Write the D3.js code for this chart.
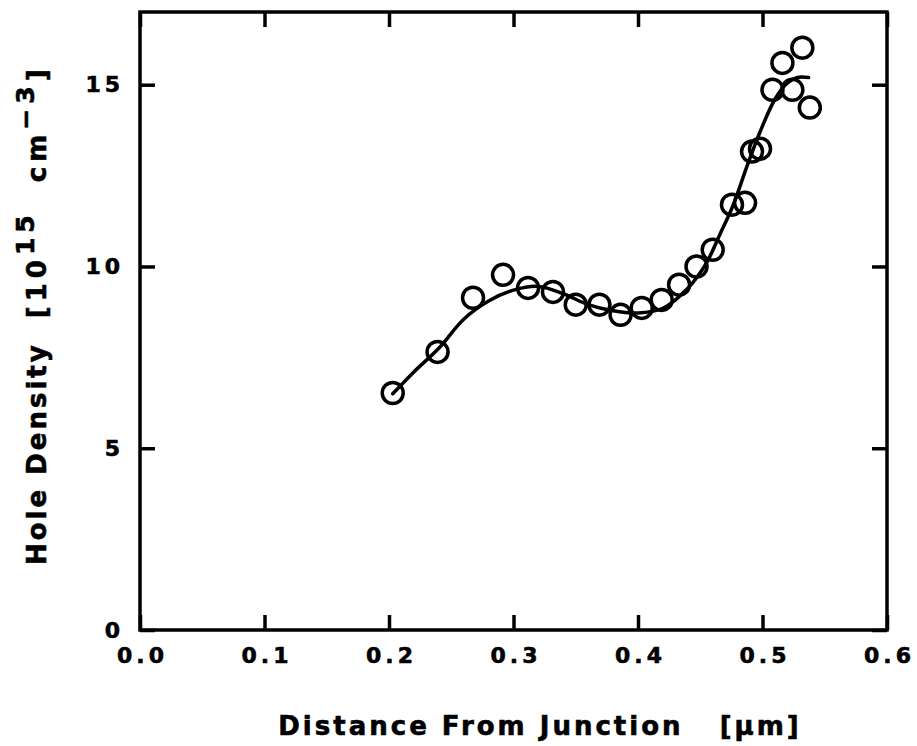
<!DOCTYPE html>
<html>
<head>
<meta charset="utf-8">
<script src="https://cdn.jsdelivr.net/npm/d3@7/dist/d3.min.js"></script>
<style>
  html, body { margin: 0; padding: 0; background: #fff; }
  svg { display: block; }
  text { font-family: "DejaVu Sans", sans-serif; font-weight: bold; fill: #000; stroke: #000; stroke-width: 0.6px; }
</style>
</head>
<body>
<svg id="chart" width="917" height="746"></svg>
<script>
// Measured hole density profile
const distance = [0.203, 0.239, 0.2675, 0.2916, 0.3117, 0.3317, 0.350, 0.369, 0.386, 0.403,
                  0.419, 0.433, 0.447, 0.460, 0.4755, 0.486, 0.4916, 0.498, 0.508, 0.516,
                  0.524, 0.532, 0.538];
const density  = [6.52, 7.65, 9.14, 9.77, 9.41, 9.30, 8.95, 8.95, 8.67, 8.86,
                  9.08, 9.50, 10.0, 10.46, 11.70, 11.75, 13.16, 13.24, 14.86, 15.6,
                  14.86, 16.02, 14.37];

// Smooth fitted curve through the measurements
const fitX = [0.203, 0.22, 0.24, 0.26, 0.28, 0.30, 0.32, 0.34, 0.36, 0.38, 0.40, 0.42,
              0.44, 0.455, 0.466, 0.476, 0.488, 0.498, 0.51, 0.52, 0.528, 0.537];
const fitY = [6.5, 7.1, 7.75, 8.55, 9.05, 9.35, 9.45, 9.25, 8.95, 8.78, 8.72, 8.85,
              9.4, 10.1, 10.9, 11.65, 12.8, 13.7, 14.6, 15.05, 15.2, 15.2];

const xTicks = [0.0, 0.1, 0.2, 0.3, 0.4, 0.5, 0.6];
const yTicks = [0, 5, 10, 15];

const svg = d3.select("#chart");
const plotL = 140, plotR = 887, plotT = 12, plotB = 630;

const x = d3.scaleLinear().domain([0, 0.6]).range([plotL, plotR]);
const y = d3.scaleLinear().domain([0, 17]).range([plotB, plotT]);

const tickLen = 15;
const lw = 3.5;

// Frame
svg.append("rect")
  .attr("x", plotL).attr("y", plotT)
  .attr("width", plotR - plotL).attr("height", plotB - plotT)
  .attr("fill", "none").attr("stroke", "#000").attr("stroke-width", lw);

function styleAxis(g) {
  g.select(".domain").remove();
  g.selectAll(".tick line").attr("stroke", "#000").attr("stroke-width", lw);
}

// Bottom axis with labels
const gx = svg.append("g").attr("transform", `translate(0,${plotB})`)
  .call(d3.axisBottom(x).tickValues(xTicks).tickFormat(d3.format(".1f"))
    .tickSizeInner(-tickLen).tickSizeOuter(0).tickPadding(17));
styleAxis(gx);
gx.selectAll(".tick text")
  .attr("font-size", 22).attr("font-family", "DejaVu Sans").attr("font-weight", "bold")
  .style("letter-spacing", "4px").attr("dx", 2);

// Top axis (ticks only)
const gxt = svg.append("g").attr("transform", `translate(0,${plotT})`)
  .call(d3.axisTop(x).tickValues(xTicks).tickFormat("")
    .tickSizeInner(-tickLen).tickSizeOuter(0));
styleAxis(gxt);

// Left axis with labels
const gy = svg.append("g").attr("transform", `translate(${plotL},0)`)
  .call(d3.axisLeft(y).tickValues(yTicks).tickFormat(d3.format("d"))
    .tickSizeInner(-tickLen).tickSizeOuter(0).tickPadding(20));
styleAxis(gy);
gy.selectAll(".tick text")
  .attr("font-size", 22).attr("font-family", "DejaVu Sans").attr("font-weight", "bold")
  .style("letter-spacing", "4px").attr("dx", 4);

// Right axis (ticks only)
const gyr = svg.append("g").attr("transform", `translate(${plotR},0)`)
  .call(d3.axisRight(y).tickValues(yTicks).tickFormat("")
    .tickSizeInner(-tickLen).tickSizeOuter(0));
styleAxis(gyr);

// Fitted curve
const line = d3.line()
  .x((d, i) => x(fitX[i]))
  .y((d, i) => y(fitY[i]))
  .curve(d3.curveCatmullRom.alpha(0.5));
svg.append("path")
  .datum(fitX)
  .attr("d", line)
  .attr("fill", "none").attr("stroke", "#000").attr("stroke-width", lw)
  .attr("stroke-linejoin", "round").attr("stroke-linecap", "round");

// Data markers
svg.append("g").selectAll("circle")
  .data(distance)
  .join("circle")
  .attr("cx", (d) => x(d))
  .attr("cy", (d, i) => y(density[i]))
  .attr("r", 10.5)
  .attr("fill", "none").attr("stroke", "#000").attr("stroke-width", lw);

// Axis titles
svg.append("text")
  .attr("x", 540).attr("y", 735)
  .attr("text-anchor", "middle")
  .attr("font-size", 26)
  .attr("xml:space", "preserve")
  .style("letter-spacing", "3px")
  .text("Distance From Junction   [\u03bcm]");

const yt = svg.append("text")
  .attr("transform", "translate(46,565) rotate(-90)")
  .attr("text-anchor", "start")
  .attr("font-size", 26)
  .attr("xml:space", "preserve")
  .style("letter-spacing", "3px");
yt.append("tspan").text("Hole Density  ");
yt.append("tspan").style("letter-spacing", "5px").text("[10");
yt.append("tspan").attr("dy", -12).attr("font-size", 25).style("letter-spacing", "5px").text("15");
yt.append("tspan").attr("dy", 12).style("letter-spacing", "5px").text("  cm");
yt.append("tspan").attr("dy", -12).attr("font-size", 25).style("letter-spacing", "5px").text("\u22123");
yt.append("tspan").attr("dy", 12).text("]");
</script>
</body>
</html>
